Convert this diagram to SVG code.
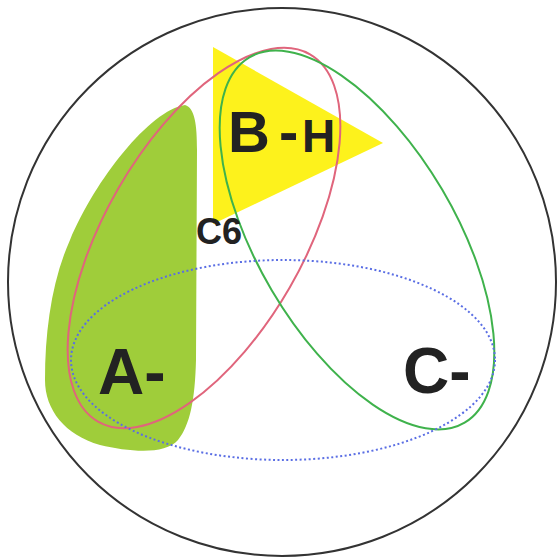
<svg xmlns="http://www.w3.org/2000/svg" width="558" height="559" viewBox="0 0 558 559">
<style>
.lbl{font-family:"Liberation Sans",Arial,sans-serif;font-weight:bold;fill:#222}
.ring{fill:none;stroke-width:2}
</style>
<rect width="558" height="559" fill="#fff"/>
<g id="outer"><circle cx="282" cy="282" r="274" fill="none" stroke="#333" stroke-width="2"/></g>
<g id="regionA"><path d="M185,105 C195,108 197,125 197,150 L196,360 C195,400 190,425 178,440 C165,455 130,452 100,445 C65,435 45,410 45,380 C45,330 52,280 70,240 C95,180 150,110 185,105 Z" fill="#9fcd3a"/></g>
<g id="regionB"><polygon points="213,47 383,143 213,224" fill="#fdf21c"/></g>
<g id="sets">
<ellipse class="ring" cx="204" cy="238" rx="212" ry="99" transform="rotate(-60 204 238)" stroke="#e0657c"/>
<ellipse class="ring" cx="357" cy="240" rx="212" ry="99" transform="rotate(59.5 357 240)" stroke="#3fb24c"/>
<ellipse class="ring" cx="283" cy="360" rx="212" ry="100" stroke="#5a6ee4" stroke-width="2.2" stroke-dasharray="2 2.5"/>
</g>
<g id="labels">
<text class="lbl" y="152"><tspan x="228" font-size="58">B</tspan><tspan x="279" font-size="58">-</tspan><tspan x="302" font-size="46">H</tspan></text>
<text class="lbl" x="196" y="244" font-size="36">C6</text>
<text class="lbl" x="98" y="394" font-size="64">A-</text>
<text class="lbl" x="403" y="393" font-size="64">C-</text>
</g>
</svg>
